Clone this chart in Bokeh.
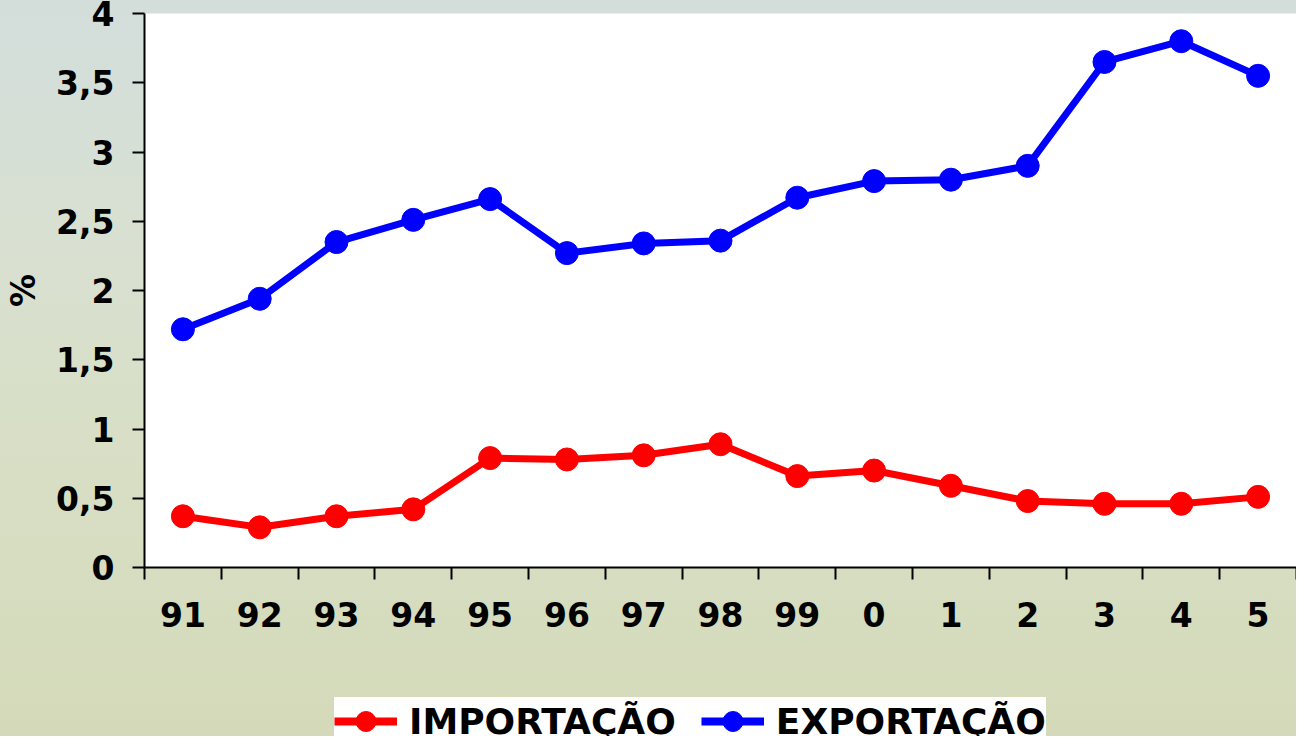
from bokeh.plotting import figure
from bokeh.models import Range1d, FixedTicker, Legend, LegendItem, ColumnDataSource
from bokeh.layouts import column
from bokeh.embed import file_html
from bokeh.resources import INLINE

categories = ["91", "92", "93", "94", "95", "96", "97", "98", "99", "0", "1", "2", "3", "4", "5"]
importacao = [0.37, 0.29, 0.37, 0.42, 0.79, 0.78, 0.81, 0.89, 0.66, 0.70, 0.59, 0.48, 0.46, 0.46, 0.51]
exportacao = [1.72, 1.94, 2.35, 2.51, 2.66, 2.27, 2.34, 2.36, 2.67, 2.79, 2.80, 2.90, 3.65, 3.80, 3.55]
y_ticks = [0, 0.5, 1, 1.5, 2, 2.5, 3, 3.5, 4]
y_tick_labels = ["0", "0,5", "1", "1,5", "2", "2,5", "3", "3,5", "4"]

xpos = [i + 0.5 for i in range(len(categories))]
src = ColumnDataSource(dict(x=xpos, imp=importacao, exp=exportacao))

FONT = "DejaVu Sans"
RED = "#ff0000"
BLUE = "#0000ff"

p = figure(width=1296, height=697, output_backend="svg", toolbar_location=None,
           x_range=Range1d(0, len(categories)), y_range=Range1d(0, 4),
           min_border_left=144, min_border_top=13, min_border_right=0, min_border_bottom=130)
p.border_fill_alpha = 0
p.background_fill_color = "white"
p.outline_line_color = None
p.grid.visible = False

# x axis
xa = p.xaxis[0]
xa.ticker = FixedTicker(ticks=xpos, minor_ticks=list(range(len(categories) + 1)))
xa.major_label_overrides = {x: c for x, c in zip(xpos, categories)}
xa.major_tick_line_color = None
xa.major_tick_out = 0
xa.major_tick_in = 0
xa.minor_tick_out = 12
xa.minor_tick_in = 0
xa.minor_tick_line_width = 2
xa.minor_tick_line_color = "black"
xa.axis_line_width = 2
xa.axis_line_color = "black"
xa.major_label_standoff = 22
xa.major_label_text_font = FONT
xa.major_label_text_font_style = "bold"
xa.major_label_text_font_size = "33px"
xa.major_label_text_color = "black"

# y axis
ya = p.yaxis[0]
ya.ticker = FixedTicker(ticks=y_ticks, minor_ticks=[])
ya.major_label_overrides = {t: l for t, l in zip(y_ticks, y_tick_labels)}
ya.major_tick_out = 12
ya.major_tick_in = 0
ya.major_tick_line_width = 2
ya.axis_line_width = 2
ya.axis_line_color = "black"
ya.major_label_standoff = 18
ya.major_label_text_font = FONT
ya.major_label_text_font_style = "bold"
ya.major_label_text_font_size = "33px"
ya.major_label_text_color = "black"
ya.axis_label = "%"
ya.axis_label_text_font = FONT
ya.axis_label_text_font_style = "bold"
ya.axis_label_text_font_size = "33px"
ya.axis_label_text_color = "black"
ya.axis_label_standoff = 10

p.line("x", "imp", source=src, line_color=RED, line_width=7)
p.scatter("x", "imp", source=src, size=23, fill_color=RED, line_color=RED)
p.line("x", "exp", source=src, line_color=BLUE, line_width=7)
p.scatter("x", "exp", source=src, size=23, fill_color=BLUE, line_color=BLUE)

# legend strip below the chart (its own small canvas, the series are out of its view)
pl = figure(width=1296, height=39, output_backend="svg", toolbar_location=None,
            x_range=Range1d(0, len(categories)), y_range=Range1d(100, 101),
            x_axis_location=None, y_axis_location=None,
            min_border_left=0, min_border_top=0, min_border_right=0, min_border_bottom=0)
pl.border_fill_alpha = 0
pl.background_fill_alpha = 0
pl.outline_line_color = None
pl.grid.visible = False
l1 = pl.line("x", "imp", source=src, line_color=RED, line_width=8)
s1 = pl.scatter("x", "imp", source=src, size=23, fill_color=RED, line_color=RED)
l2 = pl.line("x", "exp", source=src, line_color=BLUE, line_width=8)
s2 = pl.scatter("x", "exp", source=src, size=23, fill_color=BLUE, line_color=BLUE)

legend = Legend(items=[LegendItem(label="IMPORTAÇÃO", renderers=[l1, s1]),
                       LegendItem(label="EXPORTAÇÃO", renderers=[l2, s2])],
                orientation="horizontal", location=(190, -10))
legend.background_fill_color = "white"
legend.background_fill_alpha = 1
legend.border_line_color = None
legend.label_text_font = FONT
legend.label_text_font_style = "bold"
legend.label_text_font_size = "36px"
legend.label_text_color = "black"
legend.glyph_width = 63
legend.glyph_height = 50
legend.label_standoff = 12
legend.spacing = 25
legend.padding = 3
legend.margin = 0
pl.add_layout(legend, "center")

layout = column(p, pl, spacing=0)
layout.styles = {"background": "linear-gradient(to bottom, #d3dedc 0%, #d8e0d2 30%, #d8dfc6 60%, #d4dab9 100%)"}

open("out.html", "w").write(file_html(layout, INLINE))
